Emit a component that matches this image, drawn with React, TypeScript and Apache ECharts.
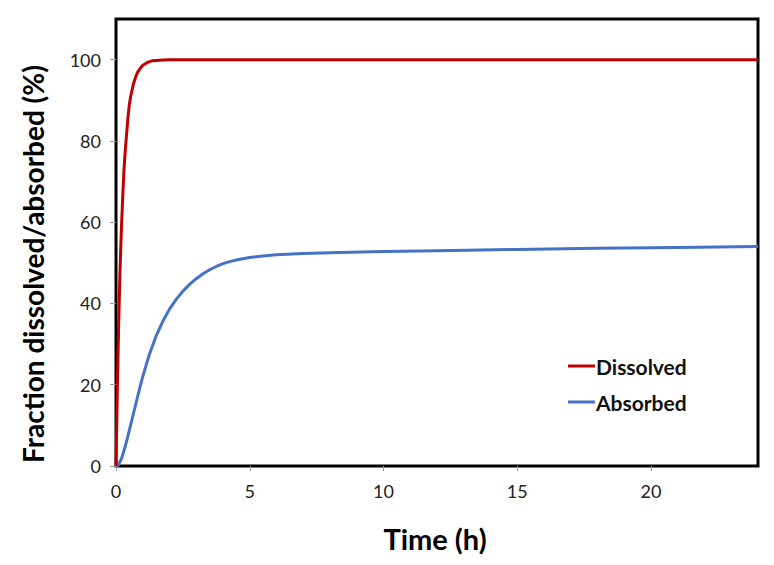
import React, { useEffect, useRef } from "react";
import * as echarts from "echarts";

const dissolvedTime = [0, 0.05, 0.1, 0.15, 0.2, 0.25, 0.3, 0.35, 0.4, 0.45, 0.5, 0.55, 0.6, 0.65, 0.7, 0.75, 0.8, 0.9, 1.0, 1.1, 1.2, 1.35, 1.5, 1.75, 2, 3, 5, 10, 15, 20, 24];
const dissolvedValues = [0, 19, 35, 48, 58, 66, 73, 78, 82, 86, 89, 91, 92.5, 94, 95, 96, 96.8, 97.8, 98.6, 99, 99.4, 99.7, 99.8, 99.9, 100, 100, 100, 100, 100, 100, 100];

const absorbedTime = [0, 0.1, 0.2, 0.3, 0.4, 0.5, 0.6, 0.75, 0.9, 1, 1.25, 1.5, 1.75, 2, 2.25, 2.5, 2.75, 3, 3.25, 3.5, 3.75, 4, 4.25, 4.5, 4.75, 5, 5.5, 6, 7, 8, 10, 12, 15, 18, 21, 24];
const absorbedValues = [0, 0.4, 1.7, 3.8, 6.2, 8.8, 11.5, 15.5, 19.5, 22, 27.5, 32, 35.6, 38.6, 41, 43, 44.7, 46.1, 47.3, 48.3, 49.1, 49.8, 50.3, 50.7, 51, 51.3, 51.7, 52, 52.3, 52.5, 52.8, 53, 53.3, 53.6, 53.8, 54];

const seriesNames = ["Dissolved", "Absorbed"];
const xTitle = "Time (h)";
const yTitle = "Fraction dissolved/absorbed (%)";

const FONT = "Lato, 'Open Sans', sans-serif";

export default function App() {
  const ref = useRef<HTMLDivElement>(null);
  useEffect(() => {
    if (!ref.current) return;
    const chart = echarts.init(ref.current, undefined, { renderer: "svg" });
    const pairs = (xs: number[], ys: number[]) => xs.map((x, i) => [x, ys[i]]);
    chart.setOption({
      animation: false,
      backgroundColor: "#fff",
      textStyle: { fontFamily: FONT },
      grid: {
        left: 116,
        top: 19,
        right: 16,
        bottom: 99,
        show: true,
        borderColor: "#000",
        borderWidth: 3,
        containLabel: false,
      },
      xAxis: {
        type: "value",
        min: 0,
        max: 24,
        interval: 5,
        axisLine: { show: false },
        axisTick: { show: true, length: 5, lineStyle: { color: "#999" } },
        splitLine: { show: false },
        axisLabel: {
          color: "#222",
          fontSize: 18,
          fontFamily: FONT,
          margin: 16,
          showMaxLabel: false,
        },
      },
      yAxis: {
        type: "value",
        min: 0,
        max: 110,
        interval: 20,
        axisLine: { show: false },
        axisTick: { show: true, length: 6, lineStyle: { color: "#999" } },
        splitLine: { show: false },
        axisLabel: {
          color: "#222",
          fontSize: 18,
          fontFamily: FONT,
          margin: 15,
          showMaxLabel: false,
          formatter: (v: number) => (v > 100 ? "" : String(v)),
        },
      },
      legend: {
        orient: "vertical",
        left: 563,
        top: 350,
        icon: "rect",
        itemWidth: 27,
        itemHeight: 3,
        itemGap: 14,
        textStyle: {
          fontFamily: FONT,
          fontSize: 21,
          fontWeight: "bold",
          color: "#111",
          padding: [0, 0, 0, -4],
          lineHeight: 22,
        },
        data: seriesNames,
      },
      graphic: [
        {
          type: "text",
          x: 435,
          y: 538,
          style: {
            text: xTitle,
            fontFamily: FONT,
            fontSize: 29,
            fontWeight: "bold",
            fill: "#000",
            align: "center",
            verticalAlign: "middle",
          },
        },
        {
          type: "text",
          x: 33,
          y: 264,
          rotation: Math.PI / 2,
          style: {
            text: yTitle,
            fontFamily: FONT,
            fontSize: 28,
            fontWeight: "bold",
            fill: "#000",
            align: "center",
            verticalAlign: "middle",
          },
        },
      ],
      series: [
        {
          name: seriesNames[0],
          type: "line",
          data: pairs(dissolvedTime, dissolvedValues),
          showSymbol: false,
          symbol: "none",
          smooth: false,
          lineStyle: { color: "#C00000", width: 3, join: "round" },
          itemStyle: { color: "#C00000" },
          z: 3,
        },
        {
          name: seriesNames[1],
          type: "line",
          data: pairs(absorbedTime, absorbedValues),
          showSymbol: false,
          symbol: "none",
          smooth: false,
          lineStyle: { color: "#4472C4", width: 3, join: "round" },
          itemStyle: { color: "#4472C4" },
          z: 2,
        },
      ],
    });
    return () => chart.dispose();
  }, []);
  return <div ref={ref} style={{ width: 774, height: 565, position: "absolute", left: 0, top: 0 }} />;
}
